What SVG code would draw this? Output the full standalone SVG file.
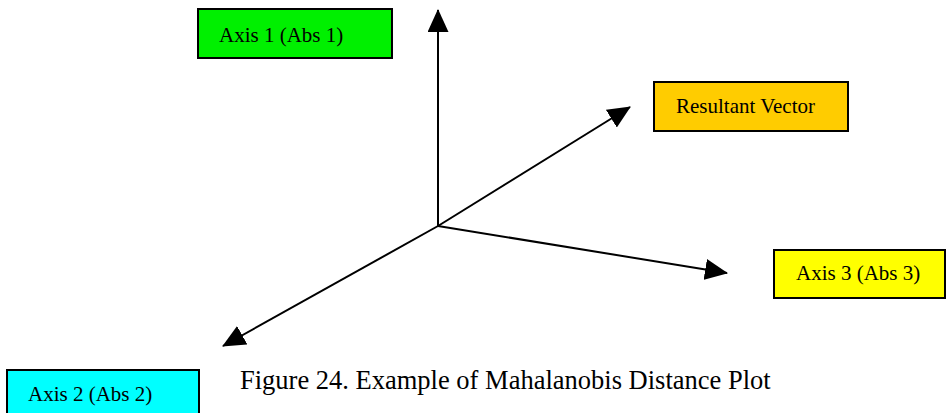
<svg xmlns="http://www.w3.org/2000/svg" width="947" height="413" viewBox="0 0 947 413">
  <style>
    .box { stroke: #000; stroke-width: 2; }
    .lbl { font-family: "Liberation Serif", "Times New Roman", serif; font-size: 21px; fill: #000; }
    .axis { stroke: #000; stroke-width: 2; fill: none; marker-end: url(#head); }
    .cap { font-family: "Liberation Serif", "Times New Roman", serif; font-size: 26.5px; fill: #000; }
  </style>
  <defs>
    <marker id="head" markerUnits="userSpaceOnUse" markerWidth="23" markerHeight="21" refX="22" refY="10.5" orient="auto">
      <path d="M0,0 L23,10.5 L0,21 Z" fill="#000"/>
    </marker>
  </defs>
  <rect width="947" height="413" fill="#fff"/>

  <!-- axes from common origin -->
  <g id="connectors">
    <line class="axis" x1="438" y1="226" x2="438" y2="10"/>
    <line class="axis" x1="438" y1="226" x2="630" y2="107"/>
    <line class="axis" x1="438" y1="226" x2="727" y2="273"/>
    <line class="axis" x1="438" y1="226" x2="223" y2="346"/>
  </g>

  <g id="axis1">
    <rect class="box" x="198" y="9" width="194" height="49" fill="#00f000"/>
    <text class="lbl" x="219" y="42">Axis 1 (Abs 1)</text>
  </g>

  <g id="resultant">
    <rect class="box" x="654" y="82" width="194" height="49" fill="#ffcc00"/>
    <text class="lbl" x="676" y="113">Resultant Vector</text>
  </g>

  <g id="axis3">
    <rect class="box" x="774" y="250" width="171" height="48" fill="#ffff00"/>
    <text class="lbl" x="796" y="280">Axis 3 (Abs 3)</text>
  </g>

  <g id="axis2">
    <rect class="box" x="7" y="370" width="192" height="50" fill="#00ffff"/>
    <text class="lbl" x="28" y="401">Axis 2 (Abs 2)</text>
  </g>

  <text class="cap" x="240" y="389">Figure 24. Example of Mahalanobis Distance Plot</text>
</svg>
